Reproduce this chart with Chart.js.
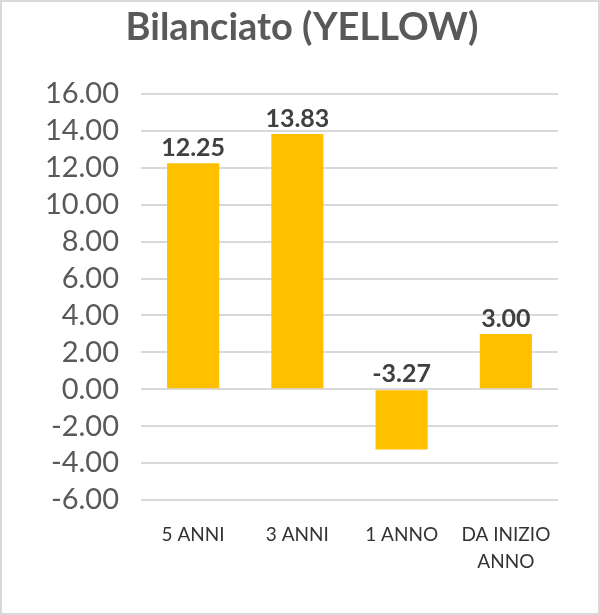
<!DOCTYPE html>
<html>
<head>
<meta charset="utf-8">
<script src="https://cdn.jsdelivr.net/npm/chart.js@4"></script>
<style>
  html, body { margin: 0; padding: 0; background: #fff; }
  #wrap { position: relative; width: 600px; height: 615px; }
</style>
</head>
<body>
<div id="wrap"><canvas id="c" width="600" height="615"></canvas></div>
<script>
const titleText = "Bilanciato (YELLOW)";
const categories = ["5 ANNI", "3 ANNI", "1 ANNO", ["DA INIZIO", "ANNO"]];
const values = [12.25, 13.83, -3.27, 3.00];
const yMin = -6, yMax = 16, yStep = 2;

const FONT = "Lato, 'Noto Sans', sans-serif";

const chartTitle = {
  id: 'chartTitle',
  afterDraw(chart) {
    const ctx = chart.ctx;
    ctx.save();
    ctx.font = "bold 38px " + FONT;
    ctx.fillStyle = "#595959";
    ctx.textAlign = "center";
    ctx.textBaseline = "alphabetic";
    ctx.fillText(titleText, 302, 40);
    ctx.restore();
  }
};

const dataLabels = {
  id: 'dataLabels',
  afterDatasetsDraw(chart) {
    const ctx = chart.ctx;
    const meta = chart.getDatasetMeta(0);
    const ys = chart.scales.y;
    ctx.save();
    ctx.font = "bold 25px " + FONT;
    ctx.fillStyle = "#404040";
    ctx.textAlign = "center";
    ctx.textBaseline = "alphabetic";
    meta.data.forEach((bar, i) => {
      const v = values[i];
      const y = ys.getPixelForValue(Math.max(v, 0)) - 7;
      ctx.fillText(v.toFixed(2), bar.x, y);
    });
    ctx.restore();
  }
};

const frame = {
  id: 'frame',
  afterDraw(chart) {
    const ctx = chart.ctx;
    ctx.save();
    ctx.strokeStyle = "#d9d9d9";
    ctx.lineWidth = 2;
    ctx.strokeRect(1, 1, chart.width - 2, chart.height - 2);
    ctx.restore();
  }
};

new Chart(document.getElementById('c'), {
  type: 'bar',
  data: {
    labels: categories,
    datasets: [{
      data: values,
      backgroundColor: "#FFC000",
      borderWidth: 0,
      barPercentage: 0.5,
      categoryPercentage: 1.0
    }]
  },
  options: {
    responsive: false,
    animation: false,
    events: [],
    layout: { padding: { left: 0, right: 42, top: 94, bottom: 0 } },
    plugins: {
      legend: { display: false },
      tooltip: { enabled: false },
      title: { display: false }
    },
    scales: {
      x: {
        grid: { display: false, drawTicks: false },
        border: { display: false },
        ticks: {
          color: "#333333",
          font: { family: FONT, size: 19, lineHeight: 1.4 },
          padding: 22,
          maxRotation: 0,
          autoSkip: false
        },
        afterFit(s) { s.height = 115; }
      },
      y: {
        min: yMin,
        max: yMax,
        grid: { color: "#d9d9d9", lineWidth: 2, drawTicks: false },
        border: { display: false },
        ticks: {
          stepSize: yStep,
          autoSkip: false,
          color: "#595959",
          font: { family: FONT, size: 29 },
          padding: 22,
          callback: (v) => Number(v).toFixed(2)
        },
        afterFit(s) { s.width = 141; }
      }
    }
  },
  plugins: [chartTitle, dataLabels, frame]
});
</script>
</body>
</html>
